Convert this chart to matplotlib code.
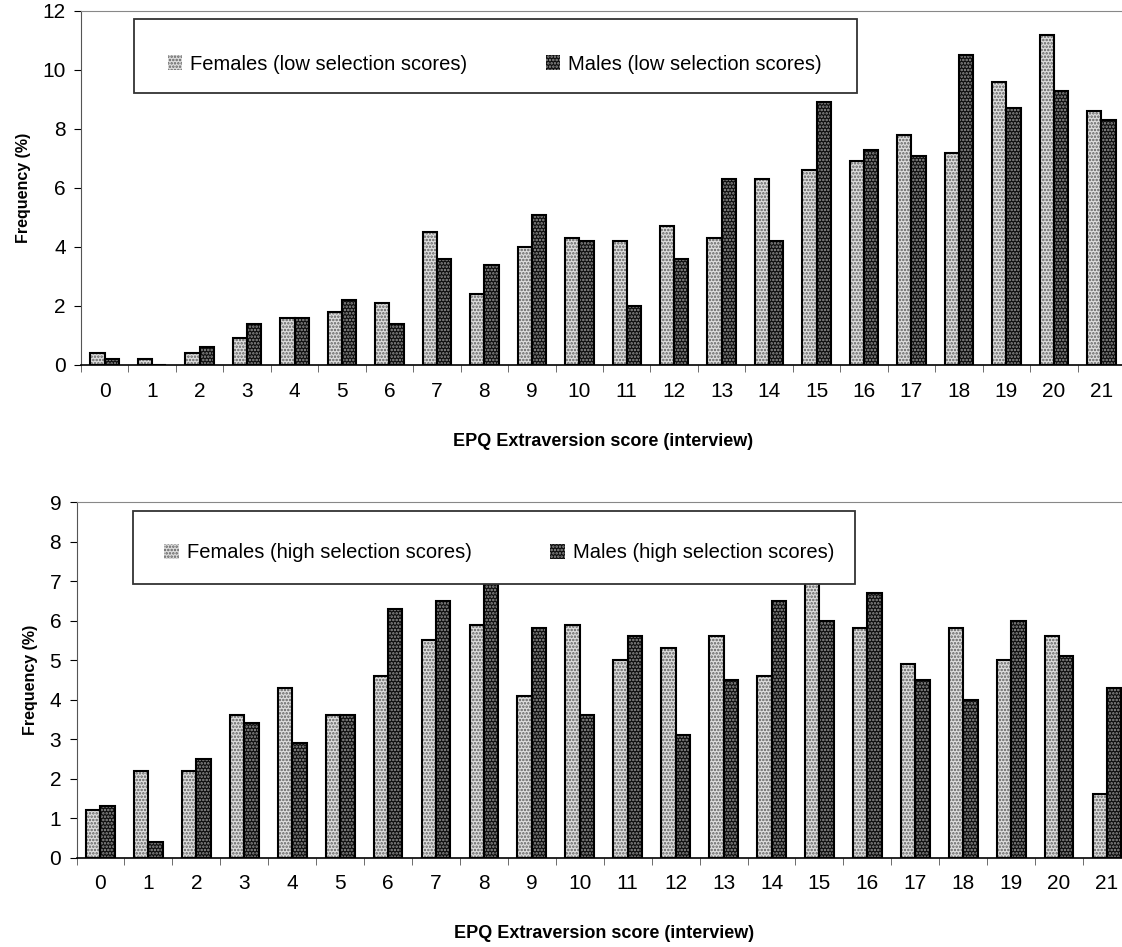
import matplotlib.pyplot as plt
from matplotlib.patches import Rectangle
import numpy as np

plt.rcParams['font.family'] = ['Liberation Sans', 'DejaVu Sans']
plt.rcParams['hatch.linewidth'] = 1.2

scores = list(range(22))

# low selection scores
low_females = [0.4, 0.2, 0.4, 0.9, 1.6, 1.8, 2.1, 4.5, 2.4, 4.0, 4.3,
               4.2, 4.7, 4.3, 6.3, 6.6, 6.9, 7.8, 7.2, 9.6, 11.2, 8.6]
low_males = [0.2, 0.0, 0.6, 1.4, 1.6, 2.2, 1.4, 3.6, 3.4, 5.1, 4.2,
             2.0, 3.6, 6.3, 4.2, 8.9, 7.3, 7.1, 10.5, 8.7, 9.3, 8.3]

# high selection scores
high_females = [1.2, 2.2, 2.2, 3.6, 4.3, 3.6, 4.6, 5.5, 5.9, 4.1, 5.9,
                5.0, 5.3, 5.6, 4.6, 7.0, 5.8, 4.9, 5.8, 5.0, 5.6, 1.6]
high_males = [1.3, 0.4, 2.5, 3.4, 2.9, 3.6, 6.3, 6.5, 7.0, 5.8, 3.6,
              5.6, 3.1, 4.5, 6.5, 6.0, 6.7, 4.5, 4.0, 6.0, 5.1, 4.3]

fig = plt.figure(figsize=(11.22, 9.47), dpi=100)
ax1 = fig.add_axes([0.0722, 0.6146, 0.9305, 0.3738])
ax2 = fig.add_axes([0.0682, 0.0943, 0.9398, 0.3756])

w = 0.3
x = np.array(scores)


def draw(ax, fem, mal, ymax, labels, box, hx, hy):
    # hatched fill first, black outline on top
    b1 = ax.bar(x - w/2, fem, w, facecolor='#dedede', edgecolor='#5e5e5e',
                hatch='.....', linewidth=0, label=labels[0])
    b2 = ax.bar(x + w/2, mal, w, facecolor='#0e0e0e', edgecolor='#959595',
                hatch='.....', linewidth=0, label=labels[1])
    ax.bar(x - w/2, fem, w, facecolor='none', edgecolor='black', linewidth=1.5)
    ax.bar(x + w/2, mal, w, facecolor='none', edgecolor='black', linewidth=1.5)

    ax.set_xlim(-0.5, 21.5)
    ax.set_ylim(0, ymax)
    ax.set_xticks(x)
    ax.set_xticklabels([str(s) for s in scores])
    ax.set_xticks(np.arange(-0.5, 22, 1), minor=True)
    ax.tick_params(axis='x', which='major', length=0, labelsize=15, pad=12)
    ax.tick_params(axis='x', which='minor', length=5, direction='out',
                   color='#555555')
    ax.tick_params(axis='y', labelsize=15, length=5, direction='out', pad=6)
    ax.spines['right'].set_visible(False)
    ax.spines['top'].set_color('#888888')
    ax.spines['left'].set_color('#555555')
    ax.spines['bottom'].set_linewidth(1.2)

    ax.set_ylabel('Frequency (%)', fontsize=11.5, fontweight='bold', labelpad=8)
    ax.set_xlabel('EPQ Extraversion score (interview)', fontsize=13,
                  fontweight='bold', labelpad=23)

    # legend box drawn separately so the entries can be placed freely
    ax.add_patch(Rectangle(box[:2], box[2], box[3], transform=ax.transAxes,
                           facecolor='white', edgecolor='#333333',
                           linewidth=1.3, zorder=4, clip_on=False))
    leg = ax.legend(handles=[b1, b2], ncol=2, loc='center left',
                    bbox_to_anchor=(hx, hy), frameon=False, borderpad=0,
                    borderaxespad=0, fontsize=14.5, handlelength=0.72,
                    handleheight=0.72, handletextpad=0.4, columnspacing=3.9)
    leg.set_zorder(5)


draw(ax1, low_females, low_males, 12,
     ['Females (low selection scores)', 'Males (low selection scores)'],
     (0.051, 0.768, 0.692, 0.209), 0.083, 0.85)
ax1.set_yticks(range(0, 13, 2))

draw(ax2, high_females, high_males, 9,
     ['Females (high selection scores)', 'Males (high selection scores)'],
     (0.0536, 0.770, 0.685, 0.205), 0.083, 0.857)
ax2.set_yticks(range(0, 10, 1))

fig.savefig('out.png', dpi=100)
